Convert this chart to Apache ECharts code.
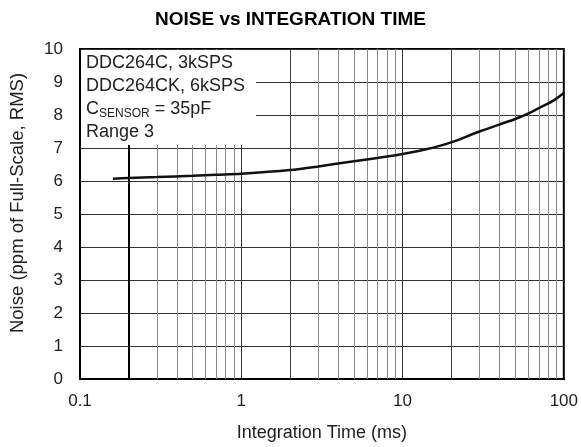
<!DOCTYPE html>
<html>
<head>
<meta charset="utf-8">
<script src="https://cdn.jsdelivr.net/npm/echarts@6/dist/echarts.min.js"></script>
<style>html,body{margin:0;padding:0;background:#fff}#c{width:581px;height:447px}</style>
</head>
<body>
<div id="c"></div>
<script>
// Data
const timeMs = [0.16, 0.2, 0.3, 0.5, 0.7, 1, 2, 3, 5, 8, 10, 14, 20, 30, 50, 60, 70, 85, 100];
const noisePpm = [6.07, 6.09, 6.12, 6.16, 6.19, 6.22, 6.33, 6.44, 6.60, 6.74, 6.82, 6.96, 7.17, 7.50, 7.88, 8.04, 8.21, 8.42, 8.67];
const xTickLabels = ['0.1', '1', '10', '100'];
const yTicks = [0,1,2,3,4,5,6,7,8,9,10];
const minorGrid = [0.2,0.3,0.4,0.5,0.6,0.7,0.8,0.9,2,3,4,5,6,7,8,9,20,30,40,50,60,70,80,90];
const legendLines = ['DDC264C, 3kSPS', 'DDC264CK, 6kSPS', 'C_SENSOR = 35pF', 'Range 3'];
const titleText = 'NOISE vs INTEGRATION TIME';
const xTitle = 'Integration Time (ms)';
const yTitle = 'Noise (ppm of Full-Scale, RMS)';

const FONT = 'Liberation Sans, Arial, sans-serif';
const chart = echarts.init(document.getElementById('c'), null, {renderer: 'canvas'});

function gridStyle(v) {
  if (v === 0.2) return {color: '#000', width: 2, type: 'solid'};
  if (v === 2 || v === 20) return {color: '#444', width: 1, type: 'solid'};
  return {color: '#8a8a8a', width: 1, type: 'solid'};
}

const lineData = timeMs.map((t, i) => [t, noisePpm[i]]);

chart.setOption({
  animation: false,
  backgroundColor: '#fff',
  title: {
    text: titleText, left: 'center', top: 5,
    textStyle: {fontFamily: FONT, fontSize: 19, fontWeight: 'bold', color: '#000'}
  },
  grid: {left: 80, right: 14, top: 49, bottom: 67, show: true, borderColor: '#000', borderWidth: 2, backgroundColor: 'transparent'},
  xAxis: {
    type: 'log', logBase: 10, min: 0.1, max: 100,
    name: xTitle, nameLocation: 'middle', nameGap: 45,
    nameTextStyle: {fontFamily: FONT, fontSize: 18, color: '#222'},
    axisLine: {show: true, lineStyle: {color: '#000', width: 2}},
    axisTick: {show: false},
    axisLabel: {fontFamily: FONT, fontSize: 17, color: '#222', margin: 14,
      formatter: v => { const s = xTickLabels.find(l => Math.abs(parseFloat(l) - v) < 1e-9); return s || ''; }},
    splitLine: {show: true, lineStyle: {color: '#333', width: 1}},
    minorTick: {show: false}, minorSplitLine: {show: false}
  },
  yAxis: {
    type: 'value', min: 0, max: 10, interval: 1,
    axisLine: {show: true, lineStyle: {color: '#000', width: 2}},
    axisTick: {show: false},
    axisLabel: {fontFamily: FONT, fontSize: 17, color: '#222', margin: 17,
      formatter: v => yTicks.indexOf(v) >= 0 ? String(v) : ''},
    splitLine: {show: true, lineStyle: {color: '#333', width: 1}}
  },
  series: [
    {
      type: 'line', data: [], silent: true, z: 1,
      markLine: {
        silent: true, symbol: ['none', 'none'], label: {show: false}, animation: false,
        data: minorGrid.map(v => ({xAxis: v, lineStyle: gridStyle(v)}))
      }
    },
    {
      type: 'line', data: lineData, showSymbol: false, smooth: 0.3, z: 5,
      lineStyle: {color: '#111', width: 2.5}
    }
  ],
  graphic: [
    {type: 'rect', left: 81, top: 50, shape: {width: 175, height: 95}, style: {fill: '#fff'}, z: 10, silent: true},
    {
      type: 'text', left: 86, top: 54, z: 11, silent: true,
      style: {
        text: [
          '{t|' + legendLines[0] + '}',
          '{t|' + legendLines[1] + '}',
          '{t|C}{s|SENSOR}{t| = 35pF}',
          '{t|' + legendLines[3] + '}'
        ].join('\n'),
        rich: {
          t: {fontFamily: FONT, fontSize: 18, lineHeight: 23, fill: '#222'},
          s: {fontFamily: FONT, fontSize: 12, lineHeight: 23, fill: '#222', padding: [10, 0, 0, 0]}
        }
      }
    },
    {
      type: 'text', x: 18, y: 203, rotation: Math.PI / 2, silent: true,
      style: {text: yTitle, fontFamily: FONT, fontSize: 18.5, fill: '#222', align: 'center', verticalAlign: 'middle'}
    }
  ]
});
</script>
</body>
</html>
